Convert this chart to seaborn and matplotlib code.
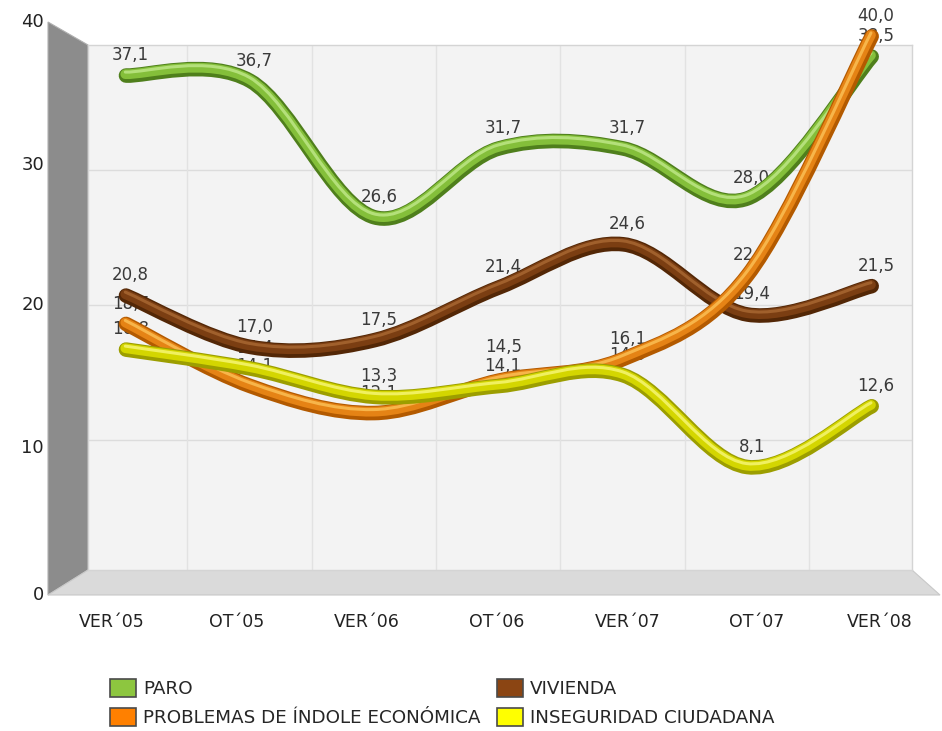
import matplotlib
matplotlib.use("Agg")
import matplotlib.pyplot as plt
import matplotlib.patheffects as pe
from matplotlib.path import Path
from matplotlib.patches import PathPatch, Polygon, Patch
import seaborn as sns

# datos
periodos = ["VER´05", "OT´05", "VER´06", "OT´06", "VER´07", "OT´07", "VER´08"]
paro = [37.1, 36.7, 26.6, 31.7, 31.7, 28.0, 38.5]
vivienda = [20.8, 17.0, 17.5, 21.4, 24.6, 19.4, 21.5]
economica = [18.7, 14.1, 12.1, 14.5, 16.1, 22.3, 40.0]
inseguridad = [16.8, 15.4, 13.3, 14.1, 14.9, 8.1, 12.6]

series = [
    ("PARO", paro, "#84bf3a", "#4f7f1c", "#b4e07a"),
    ("VIVIENDA", vivienda, "#7b3e12", "#532706", "#a0602c"),
    ("PROBLEMAS DE ÍNDOLE ECONÓMICA", economica, "#e58315", "#b35a00", "#f7b54a"),
    ("INSEGURIDAD CIUDADANA", inseguridad, "#d4d600", "#9c9e00", "#f0f060"),
]
legend_colors = {"PARO": "#8dc63f", "VIVIENDA": "#8b4513",
                 "PROBLEMAS DE ÍNDOLE ECONÓMICA": "#ff8000",
                 "INSEGURIDAD CIUDADANA": "#ffff00"}

sns.set_theme(style="white")
plt.rcParams["font.family"] = ["DejaVu Sans"]

W, H = 942, 731
fig = plt.figure(figsize=(W / 100, H / 100), dpi=100)


def fxy(x, y):
    return (x / W, 1 - y / H)


# pared lateral y suelo (efecto 3D)
side = Polygon([fxy(48, 22), fxy(88, 45), fxy(88, 570), fxy(48, 595)],
               closed=True, transform=fig.transFigure, facecolor="#8c8c8c",
               edgecolor="#b0b0b0", lw=0.8, zorder=0)
floor = Polygon([fxy(48, 595), fxy(88, 570), fxy(912, 570), fxy(940, 595)],
                closed=True, transform=fig.transFigure, facecolor="#dadada",
                edgecolor="#c8c8c8", lw=0.8, zorder=0)
fig.add_artist(side)
fig.add_artist(floor)

ax = fig.add_axes([88 / W, 1 - 570 / H, (912 - 88) / W, (570 - 45) / H])
ax.set_facecolor("#f3f3f3")
ax.set_xlim(-0.3, 6.33)
ax.set_ylim(0.37, 39.26)
for s in ax.spines.values():
    s.set_color("#d4d4d4")
    s.set_linewidth(1)
for v in [10, 20, 30]:
    ax.axhline(v, color="#dcdcdc", lw=1, zorder=1)
for i in range(len(periodos) - 1):
    ax.axvline(i + 0.5, color="#e2e2e2", lw=1, zorder=1)
ax.set_xticks([])
ax.set_yticks([])


def smooth_path(vals):
    n = len(vals)
    pts = [(float(i), v) for i, v in enumerate(vals)]
    verts = [pts[0]]
    codes = [Path.MOVETO]
    for i in range(n - 1):
        p0 = pts[max(i - 1, 0)]
        p1 = pts[i]
        p2 = pts[i + 1]
        p3 = pts[min(i + 2, n - 1)]
        c1 = (p1[0] + (p2[0] - p0[0]) / 6, p1[1] + (p2[1] - p0[1]) / 6)
        c2 = (p2[0] - (p3[0] - p1[0]) / 6, p2[1] - (p3[1] - p1[1]) / 6)
        verts += [c1, c2, p2]
        codes += [Path.CURVE4] * 3
    return Path(verts, codes)


# etiquetas de valores (detras de las lineas)
for name, vals, col, dark, light in series:
    for i, v in enumerate(vals):
        dy = 10
        if name == "PROBLEMAS DE ÍNDOLE ECONÓMICA" and i == 3:
            dy = 23
        ax.annotate(f"{v:.1f}".replace(".", ","), (i, v), xytext=(5, dy),
                    textcoords="offset pixels", ha="center", va="bottom",
                    fontsize=12, color="#3a3a3a", zorder=2,
                    annotation_clip=False)

z = 3
for name, vals, col, dark, light in series:
    patch = PathPatch(smooth_path(vals), facecolor="none", edgecolor=col,
                      lw=7, capstyle="round", joinstyle="round", zorder=z,
                      clip_on=False)
    patch.set_path_effects([
        pe.Stroke(linewidth=10.5, foreground=dark, offset=(0.5, -1)),
        pe.Normal(),
        pe.Stroke(linewidth=2.2, foreground=light, offset=(0, 1.5)),
    ])
    ax.add_patch(patch)
    z += 1

# ejes frontales
for v, y in zip([40, 30, 20, 10, 0], [22, 165, 305, 448, 595]):
    fig.text(*fxy(44, y), str(v), ha="right", va="center", fontsize=13,
             color="#222222")
for lab, x in zip(periodos, [112, 237, 367, 497, 628, 757, 880]):
    fig.text(*fxy(x, 622), lab, ha="center", va="center", fontsize=12.5,
             color="#222222")

handles = [Patch(facecolor=legend_colors[n], edgecolor="#4a4a4a", lw=1.2, label=n)
           for n in ["PARO", "PROBLEMAS DE ÍNDOLE ECONÓMICA", "VIVIENDA",
                     "INSEGURIDAD CIUDADANA"]]
fig.legend(handles=handles, loc="upper left", bbox_to_anchor=fxy(103, 672),
           ncol=2, frameon=False, fontsize=13.2, handlelength=1.4,
           handleheight=1.1, handletextpad=0.4, columnspacing=0.9,
           labelspacing=0.55, borderaxespad=0)

fig.savefig("out.png", dpi=100)
